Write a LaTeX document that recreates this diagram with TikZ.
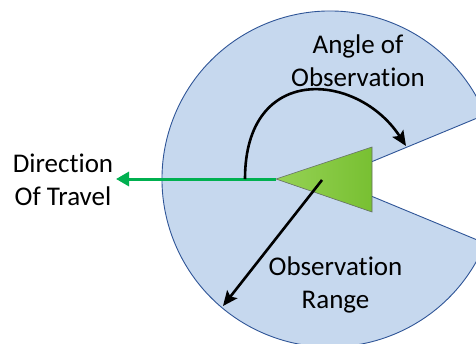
\documentclass[tikz,border=0pt]{standalone}
\usepackage{fontspec}
\setmainfont[RawFeature={-liga}]{Carlito}
\usetikzlibrary{arrows.meta}
\definecolor{rangeblue}{RGB}{198,216,238}
\definecolor{rangeedge}{RGB}{47,85,151}
\definecolor{travelgreen}{RGB}{0,176,80}
\definecolor{triL}{RGB}{150,210,85}
\definecolor{triR}{RGB}{120,192,50}
\definecolor{triedge}{RGB}{100,110,100}
\tikzset{
  lbl/.style={font=\fontsize{27}{33}\selectfont, align=center, inner sep=0pt},
  blackarrow/.style={line width=2.6pt, -{Stealth[length=15pt,width=13pt,inset=3pt]}},
  greenarrow/.style={travelgreen, line width=3pt, -{Triangle[length=13pt,width=14pt]}},
}
\begin{document}
\begin{tikzpicture}[x=1pt,y=-1pt]
\useasboundingbox (0,0) rectangle (476,343);
\clip (0,0) rectangle (476,343);
% observation range sector
\coordinate (ctr) at (330,179);
\filldraw[fill=rangeblue, draw=rangeedge, line width=0.9pt]
  (ctr) -- ++(22.5:168) arc[start angle=22.5, end angle=337.5, radius=168] -- cycle;
% observer triangle
\coordinate (tip) at (276,179);
\coordinate (trtop) at (372,147);
\coordinate (trbot) at (372,212);
\shade[left color=triL, right color=triR] (tip) -- (trtop) -- (trbot) -- cycle;
\draw[triedge, line width=0.6pt] (tip) -- (trtop) -- (trbot) -- cycle;
% direction of travel
\coordinate (travelend) at (116,179);
\draw[greenarrow] (tip) -- (travelend);
% angle of observation arc
\coordinate (arcstart) at (245,179);
\coordinate (arcend) at (406,146);
\draw[blackarrow] (arcstart) .. controls (245,62) and (358,72) .. (arcend);
% observation range radius
\coordinate (rstart) at (322,180);
\coordinate (rend) at (223,306);
\draw[blackarrow] (rstart) -- (rend);
% labels
\node[lbl] (angle) at (358,61) {Angle of\\Observation};
\node[lbl] (range) at (335.5,285) {Observation\\Range};
\node[lbl] (travel) at (63,180) {Direction\\Of Travel};
\end{tikzpicture}
\end{document}
